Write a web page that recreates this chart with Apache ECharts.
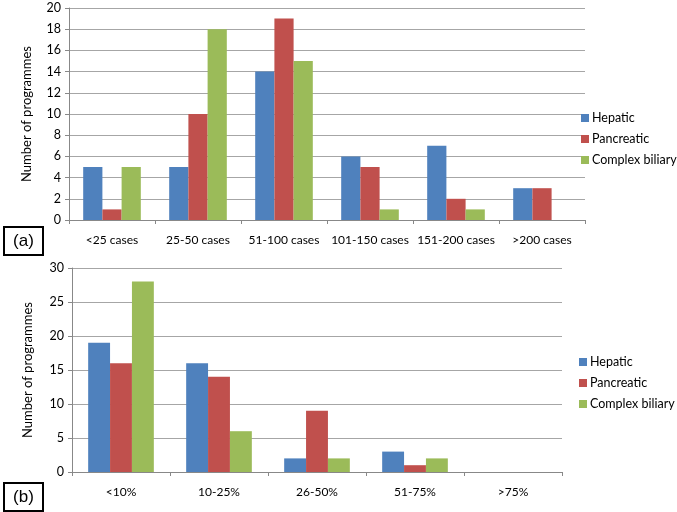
<!DOCTYPE html>
<html>
<head>
<meta charset="utf-8">
<script src="https://cdn.jsdelivr.net/npm/echarts@6/dist/echarts.min.js"></script>
<style>
html,body{margin:0;padding:0;background:#fff;}
#c{width:677px;height:512px;}
</style>
</head>
<body>
<div id="c"></div>
<script>
const seriesNames = ['Hepatic', 'Pancreatic', 'Complex biliary'];
const colors = ['#4F81BD', '#C0504D', '#9BBB59'];

const catsA = ['<25 cases', '25-50 cases', '51-100 cases', '101-150 cases', '151-200 cases', '>200 cases'];
const hepaticA = [5, 5, 14, 6, 7, 3];
const pancreaticA = [1, 10, 19, 5, 2, 3];
const biliaryA = [5, 18, 15, 1, 1, 0];
const yTicksA = { min: 0, max: 20, interval: 2 };

const catsB = ['<10%', '10-25%', '26-50%', '51-75%', '>75%'];
const hepaticB = [19, 16, 2, 3, 0];
const pancreaticB = [16, 14, 9, 1, 0];
const biliaryB = [28, 6, 2, 2, 0];
const yTicksB = { min: 0, max: 30, interval: 5 };

const FONT = 'Lato, "Open Sans", sans-serif';
const chart = echarts.init(document.getElementById('c'), null, { renderer: 'canvas' });

function xAxis(cats, gi) {
  return {
    type: 'category', gridIndex: gi, data: cats,
    axisLine: { lineStyle: { color: '#888', width: 1 } },
    axisTick: { show: true, alignWithLabel: false, interval: 0, length: 4, lineStyle: { color: '#888' } },
    axisLabel: { color: '#000', fontFamily: FONT, fontSize: 12, margin: 14, interval: 0 }
  };
}
function yAxis(t, gi, gap) {
  return {
    type: 'value', gridIndex: gi, min: t.min, max: t.max, interval: t.interval,
    name: 'Number of programmes', nameLocation: 'middle', nameRotate: 90, nameGap: gap,
    nameTextStyle: { color: '#000', fontFamily: FONT, fontSize: 13 },
    axisLine: { show: true, lineStyle: { color: '#888', width: 1 } },
    axisTick: { show: true, length: 4, lineStyle: { color: '#888' } },
    axisLabel: { color: '#000', fontFamily: FONT, fontSize: 12.5, margin: 8 },
    splitLine: { show: true, lineStyle: { color: '#a6a6a6', width: 1 } }
  };
}
function bars(name, data, gi, ci) {
  return {
    type: 'bar', name: name, xAxisIndex: gi, yAxisIndex: gi, data: data,
    barGap: '0%', barCategoryGap: '33%',
    itemStyle: { color: colors[ci] },
    emphasis: { disabled: true }, animation: false
  };
}
function legend(left, top) {
  return {
    orient: 'vertical', left: left, top: top, data: seriesNames,
    icon: 'rect', itemWidth: 8, itemHeight: 8, itemGap: 5,
    textStyle: { color: '#000', fontFamily: FONT, fontSize: 12.5, lineHeight: 16, padding: [0, 0, 0, -2] },
    padding: 0
  };
}
function labelBox(x, y, w, h, txt) {
  return {
    type: 'group', left: x, top: y,
    children: [
      { type: 'rect', shape: { x: 0, y: 0, width: w, height: h },
        style: { fill: '#fff', stroke: '#000', lineWidth: 2 } },
      { type: 'text', x: w / 2, y: h / 2,
        style: { text: txt, fill: '#000', font: '17px Arial, "Liberation Sans", sans-serif', align: 'center', verticalAlign: 'middle' } }
    ]
  };
}

chart.setOption({
  animation: false,
  color: colors,
  grid: [
    { left: 69, top: 8, width: 516, height: 212 },
    { left: 72, top: 268, width: 490, height: 204 }
  ],
  xAxis: [xAxis(catsA, 0), xAxis(catsB, 1)],
  yAxis: [yAxis(yTicksA, 0, 36), yAxis(yTicksB, 1, 38)],
  legend: [legend(581, 110), legend(579, 354)],
  series: [
    bars(seriesNames[0], hepaticA, 0, 0),
    bars(seriesNames[1], pancreaticA, 0, 1),
    bars(seriesNames[2], biliaryA, 0, 2),
    bars(seriesNames[0], hepaticB, 1, 0),
    bars(seriesNames[1], pancreaticB, 1, 1),
    bars(seriesNames[2], biliaryB, 1, 2)
  ],
  graphic: [
    labelBox(3, 226, 39, 28, '(a)'),
    labelBox(3, 482, 39, 28, '(b)')
  ]
});
</script>
</body>
</html>
